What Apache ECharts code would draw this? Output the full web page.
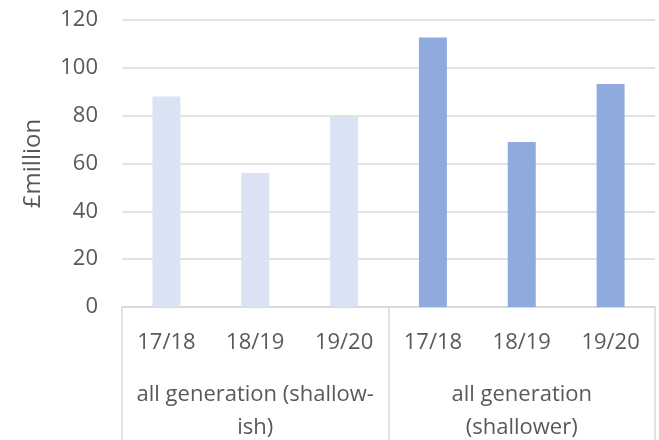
<!DOCTYPE html>
<html>
<head>
<meta charset="utf-8">
<script src="https://cdn.jsdelivr.net/npm/echarts@6/dist/echarts.min.js"></script>
<style>html,body{margin:0;padding:0;background:#fff}#c{width:659px;height:440px}</style>
</head>
<body>
<div id="c"></div>
<script>
var years = ['17/18', '18/19', '19/20'];
var groups = ['all generation (shallow-\nish)', 'all generation\n(shallower)'];
var shallowIsh = [88, 56, 79.5];
var shallower = [112.7, 69, 93.2];
var yTicks = [0, 20, 40, 60, 80, 100, 120];

var FONT = '"Open Sans"';
var TXT = '#595959';
var LINE = '#d9d9d9';
var colors = ['#dae3f3', '#8faadc'];

var cats = [];
var data = [];
[shallowIsh, shallower].forEach(function (arr, g) {
  arr.forEach(function (v, i) {
    cats.push(years[i]);
    data.push({ value: v, itemStyle: { color: colors[g] } });
  });
});

var chart = echarts.init(document.getElementById('c'), null, { renderer: 'canvas' });
chart.setOption({
  animation: false,
  grid: { left: 122, right: 4, top: 20, bottom: 133, containLabel: false, outerBoundsMode: 'none' },
  xAxis: [
    {
      type: 'category', data: cats, position: 'bottom',
      axisLine: { show: true, lineStyle: { color: LINE, width: 1.5 } },
      axisTick: { show: false },
      axisLabel: { color: TXT, fontFamily: FONT, fontSize: 22, margin: 25, interval: 0 }
    },
    {
      type: 'category', data: groups, position: 'bottom',
      axisLine: { show: true, lineStyle: { color: LINE, width: 1.5 } },
      axisTick: { show: true, length: 135, interval: 0, lineStyle: { color: LINE, width: 1.5 } },
      axisLabel: { color: TXT, fontFamily: FONT, fontSize: 22, margin: 71, lineHeight: 33, interval: 0 }
    }
  ],
  yAxis: {
    type: 'value', min: 0, max: 120, interval: 20,
    name: '£million', nameLocation: 'middle', nameGap: 77, nameRotate: 90,
    nameTextStyle: { color: TXT, fontFamily: FONT, fontSize: 24 },
    axisLine: { show: false }, axisTick: { show: false },
    axisLabel: { color: TXT, fontFamily: FONT, fontSize: 22, margin: 24,
      formatter: function (v) { return yTicks.indexOf(v) >= 0 ? String(v) : ''; } },
    splitLine: { lineStyle: { color: LINE, width: 1.5 } }
  },
  series: [{
    type: 'bar', xAxisIndex: 0, data: data, barWidth: 28
  }]
});
</script>
</body>
</html>
